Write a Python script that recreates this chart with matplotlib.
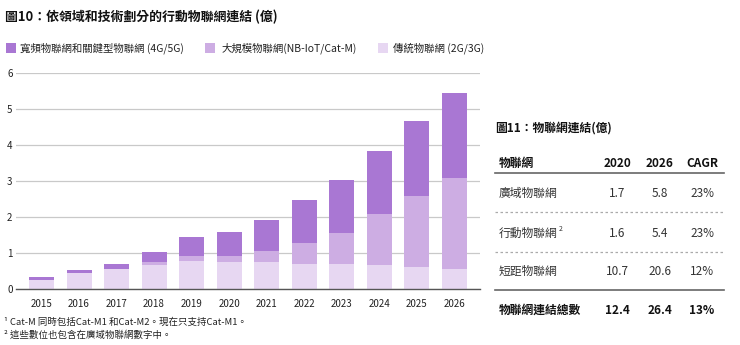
import matplotlib
matplotlib.use("Agg")
import matplotlib.pyplot as plt
import numpy as np

plt.rcParams['font.family'] = ['Noto Sans CJK TC', 'DejaVu Sans']

years = ['2015', '2016', '2017', '2018', '2019', '2020', '2021', '2022', '2023', '2024', '2025', '2026']
legacy = [0.26, 0.44, 0.57, 0.68, 0.80, 0.76, 0.76, 0.71, 0.71, 0.67, 0.62, 0.57]
massive = [0.0, 0.0, 0.0, 0.08, 0.12, 0.16, 0.30, 0.57, 0.85, 1.41, 1.98, 2.51]
broadband = [0.07, 0.09, 0.14, 0.29, 0.52, 0.66, 0.86, 1.20, 1.48, 1.77, 2.07, 2.36]

series_names = ['寬頻物聯網和關鍵型物聯網 (4G/5G)', '大規模物聯網(NB-IoT/Cat-M)', '傳統物聯網 (2G/3G)']
colors = ['#a977d3', '#cdade3', '#e7d7f2']

title = '圖10：依領域和技術劃分的行動物聯網連結 (億)'
table_title = '圖11：物聯網連結(億)'
table_header = ['物聯網', '2020', '2026', 'CAGR']
table_rows = [
    ['廣域物聯網', '1.7', '5.8', '23%'],
    ['行動物聯網', '1.6', '5.4', '23%'],
    ['短距物聯網', '10.7', '20.6', '12%'],
    ['物聯網連結總數', '12.4', '26.4', '13%'],
]
row_marks = ['', '2', '', '']
footnotes = ['¹ Cat-M 同時包括Cat-M1 和Cat-M2。現在只支持Cat-M1。',
             '² 這些數位也包含在廣域物聯網數字中。']

W, H = 740, 345
fig = plt.figure(figsize=(W / 100, H / 100), dpi=100)


def fx(px):
    return px / W


def fy(py):
    return 1 - py / H


# chart axes
ax_left, ax_right, ax_top, ax_bot = 16, 480, 73.3, 289.3
ax = fig.add_axes([fx(ax_left), fy(ax_bot), fx(ax_right - ax_left), (ax_bot - ax_top) / H])
x = np.arange(len(years))
bw = 25 / 37.5
ax.bar(x, legacy, width=bw, color=colors[2], zorder=3)
ax.bar(x, massive, width=bw, bottom=legacy, color=colors[1], zorder=3)
ax.bar(x, broadband, width=bw, bottom=np.array(legacy) + np.array(massive), color=colors[0], zorder=3)
ax.set_ylim(0, 6)
ax.set_xlim(-0.68, 11.69)
ax.set_yticks(range(0, 7))
ax.set_xticks(x)
ax.set_xticklabels(years)
ax.yaxis.grid(True, color='#c9c9c9', linewidth=0.9, zorder=0)
ax.set_axisbelow(True)
for s in ['top', 'right', 'left']:
    ax.spines[s].set_visible(False)
ax.spines['bottom'].set_color('#555555')
ax.spines['bottom'].set_linewidth(1.0)
ax.spines['bottom'].set_zorder(4)
ax.tick_params(axis='both', length=0, labelsize=7, colors='#222222')
ax.tick_params(axis='x', pad=7)
ax.tick_params(axis='y', pad=2.5)

# title
fig.text(fx(5), fy(17), title, fontsize=9.3, fontweight='bold', va='center', ha='left', color='#111111')

# legend
leg_items = [(6, 20, series_names[0], colors[0]),
             (205, 222, series_names[1], colors[1]),
             (378, 393, series_names[2], colors[2])]
for sx, tx, name, c in leg_items:
    fig.patches.append(plt.Rectangle((fx(sx), fy(53)), fx(10), 10 / H, transform=fig.transFigure,
                                     facecolor=c, edgecolor='none'))
    fig.text(fx(tx), fy(48), name, fontsize=7.5, va='center', ha='left', color='#222222')

# table
fig.text(fx(495), fy(128), table_title, fontsize=8.5, fontweight='bold', va='center', ha='left', color='#111111')
col_x = [499, 617, 660, 702]
row_y = [193.3, 233.3, 271.7, 310]
fig.text(fx(col_x[0]), fy(163.3), table_header[0], fontsize=8.5, fontweight='bold', va='center', ha='left', color='#111111')
for j in range(1, 4):
    fig.text(fx(col_x[j]), fy(163.3), table_header[j], fontsize=8.5, fontweight='bold', va='center', ha='center', color='#111111')
for i, row in enumerate(table_rows):
    bold = (i == len(table_rows) - 1)
    fw = 'bold' if bold else 'normal'
    col = '#111111' if bold else '#333333'
    t = fig.text(fx(col_x[0]), fy(row_y[i]), row[0], fontsize=8.5, fontweight=fw, va='center', ha='left', color=col)
    if row_marks[i]:
        fig.canvas.draw()
        bb = t.get_window_extent()
        fig.text(bb.x1 / (fig.dpi * fig.get_figwidth()) + fx(0.5), fy(row_y[i] - 4.5), row_marks[i],
                 fontsize=5, va='center', ha='left', color=col)
    for j in range(1, 4):
        fig.text(fx(col_x[j]), fy(row_y[i]), row[j], fontsize=8.5, fontweight=fw, va='center', ha='center', color=col)

lines = [(173.3, '-', '#666666', 1.2), (211.7, (0, (2, 2)), '#aaaaaa', 0.9),
         (251.7, (0, (2, 2)), '#aaaaaa', 0.9), (290, '-', '#666666', 1.2)]
for ly, ls, c, lw in lines:
    fig.add_artist(plt.Line2D([fx(495), fx(724)], [fy(ly), fy(ly)], transform=fig.transFigure,
                              color=c, linestyle=ls, linewidth=lw))

# footnotes
fig.text(fx(4), fy(322), footnotes[0], fontsize=6.8, va='center', ha='left', color='#222222')
fig.text(fx(4), fy(335), footnotes[1], fontsize=6.8, va='center', ha='left', color='#222222')

fig.savefig('out.png', dpi=100, facecolor='white')
